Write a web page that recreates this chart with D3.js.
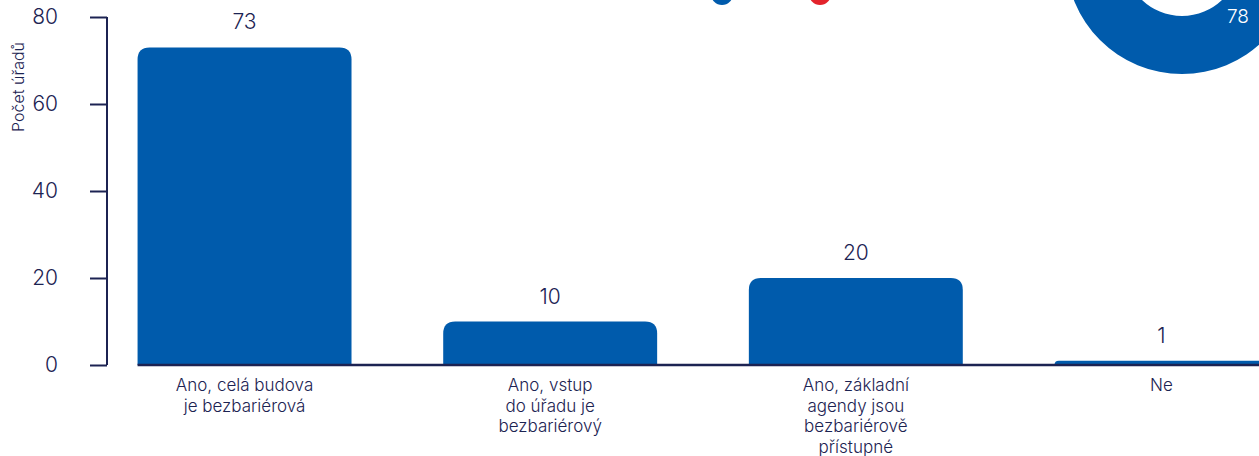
<!DOCTYPE html>
<html>
<head>
<meta charset="utf-8">
<script src="https://cdn.jsdelivr.net/npm/d3@7"></script>
<style>
  body { margin: 0; background: #fff; overflow: hidden; }
  svg { display: block; font-family: Inter, "Noto Sans", sans-serif; }
</style>
</head>
<body>
<div id="container"></div>
<script>
// data
const categories = [
    ["Ano, celá budova", "je bezbariérová"],
    ["Ano, vstup", "do úřadu je", "bezbariérový"],
    ["Ano, základní", "agendy jsou", "bezbariérově", "přístupné"],
    ["Ne"]
];
const values = [73, 10, 20, 1];
const yTicks = [0, 20, 40, 60, 80];
const yTitle = "Počet úřadů";

// pieces of the neighbouring charts that peek in at the top edge
const legendColors = ["#005bac", "#e3232b"];
const donutValues = [78];

const navy = "#1c2352";
const blue = "#005bac";
const width = 1259, height = 456;

const svg = d3.select("#container")
        .append("svg")
        .attr("width", width)
        .attr("height", height);

let y = d3.scaleLinear()
        .domain([0, 80])
        .range([365, 17]);

let x = d3.scaleBand()
        .domain(d3.range(values.length))
        .range([107, 1299])
        .paddingInner(0.3)
        .paddingOuter(0.1);

// y axis
let yAxis = svg.append("g")
        .attr("transform", "translate(107,0)")
        .call(d3.axisLeft(y).tickValues(yTicks).tickSize(17).tickPadding(32));
yAxis.select(".domain").attr("stroke", navy).attr("stroke-width", 2).attr("d", `M0,${y(80)}V${y(0)}`);
yAxis.selectAll(".tick line").attr("stroke", navy).attr("stroke-width", 2);
yAxis.selectAll(".tick text")
        .attr("fill", navy)
        .style("font-size", "21px")
        .style("font-family", "Inter, sans-serif")
        .style("font-weight", 300);

svg.append("text")
        .attr("transform", "translate(24,87) rotate(-90)")
        .attr("text-anchor", "middle")
        .attr("fill", navy)
        .style("font-size", "16px")
        .style("font-weight", 300)
        .text(yTitle);

// bars with rounded tops
function barPath(d, i){
    let x0 = x(i), w = x.bandwidth(), y0 = y(0), y1 = y(d);
    let r = Math.min(12, y0 - y1);
    return `M${x0},${y0}V${y1 + r}Q${x0},${y1} ${x0 + r},${y1}H${x0 + w - r}Q${x0 + w},${y1} ${x0 + w},${y1 + r}V${y0}Z`;
}

svg.selectAll("path.bar")
        .data(values)
        .enter()
        .append("path")
        .attr("class", "bar")
        .attr("d", barPath)
        .attr("fill", blue);

svg.selectAll("text.val")
        .data(values)
        .enter()
        .append("text")
        .attr("class", "val")
        .attr("x", (d, i) => x(i) + x.bandwidth() / 2)
        .attr("y", (d) => y(d) - 18)
        .attr("text-anchor", "middle")
        .attr("fill", navy)
        .style("font-size", "21px")
        .style("font-weight", 300)
        .text((d) => d);

// baseline
svg.append("line")
        .attr("x1", x(0)).attr("x2", width)
        .attr("y1", y(0)).attr("y2", y(0))
        .attr("stroke", navy)
        .attr("stroke-width", 2.5);

// category labels
let cat = svg.selectAll("text.cat")
        .data(categories)
        .enter()
        .append("text")
        .attr("class", "cat")
        .attr("text-anchor", "middle")
        .attr("fill", navy)
        .style("font-size", "17px")
        .style("font-weight", 300);
cat.selectAll("tspan")
        .data((d, i) => d.map((t) => ({t: t, i: i})))
        .enter()
        .append("tspan")
        .attr("x", (d) => x(d.i) + x.bandwidth() / 2)
        .attr("y", (d, j) => 391 + j * 20.5)
        .text((d) => d.t);

// legend dots of the chart above
svg.selectAll("circle.leg")
        .data(legendColors)
        .enter()
        .append("circle")
        .attr("class", "leg")
        .attr("cx", (d, i) => 722 + i * 98)
        .attr("cy", -6)
        .attr("r", 11)
        .attr("fill", (d) => d);

// donut of the chart to the right
let pie = d3.pie().sort(null)(donutValues);
let arc = d3.arc().innerRadius(58).outerRadius(116);
let donut = svg.append("g").attr("transform", "translate(1182,-42)");
donut.selectAll("path")
        .data(pie)
        .enter()
        .append("path")
        .attr("d", arc)
        .attr("fill", blue);
donut.append("text")
        .attr("x", 56)
        .attr("y", 65)
        .attr("text-anchor", "middle")
        .attr("fill", "#fff")
        .style("font-size", "19px")
        .style("font-weight", 300)
        .text(donutValues[0]);
</script>
</body>
</html>
